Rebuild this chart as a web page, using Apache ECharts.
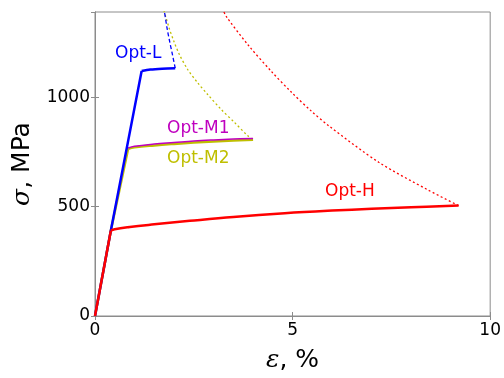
<!DOCTYPE html>
<html><head><meta charset="utf-8">
<script src="https://cdn.jsdelivr.net/npm/echarts@6/dist/echarts.min.js"></script>
<style>html,body{margin:0;padding:0;background:#fff}#c{width:504px;height:378px}</style>
</head><body><div id="c"></div>
<script>
var xTicks = [0, 5, 10];
var yTicks = [0, 500, 1000];
var optLElastic = [[0,0],[0.40,390],[1.18,1120]];
var optL = [[1.18,1120],[1.4,1127],[1.7,1131],[2.03,1133]];
var optLDash = [[2.03,1133],[1.96,1195],[1.89,1254],[1.82,1320],[1.75,1400]];
var optMElastic = [[0,0],[0.40,390],[0.84,766]];
var optM1 = [[0.84,768],[1.0,776],[1.5,786],[2.0,793],[2.5,800],[3.0,805],[3.5,809],[4.0,812]];
var optM2 = [[0.84,764],[1.0,771],[1.5,780],[2.0,787],[2.5,793],[3.0,798],[3.5,802],[4.0,806]];
var optMDash = [[3.99,808],[3.86,825],[3.53,885],[3.19,945],[2.85,1013],[2.60,1066],[2.35,1126],[2.14,1194],[2.00,1254],[1.87,1320],[1.74,1400]];
var optHElastic = [[0,0],[0.40,390]];
var optH = [[0.40,390],[0.5,397],[0.88,407],[1.5,419],[2.4,435],[3.5,453],[4.8,470],[6.0,482],[7.0,490],[8.0,497],[9.2,505]];
var optHDash = [[9.2,505],[8.44,575],[7.18,703],[5.92,869],[5.48,936],[4.96,1025],[4.46,1119],[3.88,1238],[3.32,1370],[3.24,1400]];

var chart = echarts.init(document.getElementById('c'));
var frame = '#8c8c8c';
function ln(data, color, w, type, z, smooth){
  return {type:'line', data:data, showSymbol:false, symbol:'none', smooth:smooth||false, z:z||2,
    lineStyle:{color:color, width:w, type:type||'solid'}, animation:false};
}
chart.setOption({
  animation:false,
  grid:{left:95, right:12, top:12, bottom:59, show:true, borderColor:frame, borderWidth:1},
  xAxis:[{type:'value', min:0, max:10, interval:5,
    axisLine:{show:true, lineStyle:{color:frame}},
    axisTick:{show:true, inside:true, length:4, lineStyle:{color:frame}},
    splitLine:{show:false},
    axisLabel:{color:'#000', fontSize:17, fontFamily:'DejaVu Sans', margin:6,
      formatter:function(v){return xTicks.indexOf(v)>=0? String(v):'';}},
    name:'{i|ε}, %', nameLocation:'middle', nameGap:32,
    nameTextStyle:{fontSize:25, fontFamily:'DejaVu Sans', color:'#000',
      rich:{i:{fontSize:25, fontFamily:'DejaVu Serif', fontStyle:'italic', color:'#000'}}}},
   {type:'value', position:'top', min:0, max:10, interval:5,
    axisLine:{show:true, lineStyle:{color:frame}},
    axisTick:{show:true, inside:true, length:4, lineStyle:{color:frame}},
    axisLabel:{show:false}, splitLine:{show:false}}],
  yAxis:[{type:'value', min:0, max:1390, interval:500,
    axisLine:{show:true, lineStyle:{color:frame}},
    axisTick:{show:true, inside:true, length:4, lineStyle:{color:frame}},
    splitLine:{show:false},
    axisLabel:{color:'#000', fontSize:17, fontFamily:'DejaVu Sans', margin:5, showMaxLabel:false,
      formatter:function(v){return yTicks.indexOf(v)>=0? String(v):'';}},
    name:'{i|σ}, MPa', nameLocation:'middle', nameGap:60, nameRotate:90,
    nameTextStyle:{fontSize:25, fontFamily:'DejaVu Sans', color:'#000',
      rich:{i:{fontSize:25, fontFamily:'DejaVu Serif', fontStyle:'italic', color:'#000'}}}},
   {type:'value', position:'right', min:0, max:1390, interval:500,
    axisLine:{show:true, lineStyle:{color:frame}},
    axisTick:{show:true, inside:true, length:4, lineStyle:{color:frame}},
    axisLabel:{show:false}, splitLine:{show:false}}],
  series:[
    ln(optHDash, '#ff0000', 1.3, [2,2.5], 1, 0.3),
    ln(optMDash, '#bfbf00', 1.3, [2,2.5], 1, 0.3),
    ln(optLDash, '#0000ff', 1.3, [4,2.5], 1, 0.3),
    ln(optMElastic, '#bfbf00', 2.5, 'solid', 2),
    ln(optM2, '#bfbf00', 2.5, 'solid', 2, 0.4),
    ln(optM1, '#bf00bf', 1.5, 'solid', 3, 0.4),
    ln(optLElastic, '#0000ff', 2.5, 'solid', 3),
    ln(optL, '#0000ff', 2.5, 'solid', 3, 0.3),
    ln(optHElastic, '#ff0000', 2.5, 'solid', 4),
    ln(optH, '#ff0000', 2.5, 'solid', 4, 0.4)
  ],
  graphic:[
    {type:'text', left:115, top:45, style:{text:'Opt-L', fill:'#0000ff', fontSize:17, fontFamily:'DejaVu Sans'}},
    {type:'text', left:167, top:120, style:{text:'Opt-M1', fill:'#bf00bf', fontSize:17, fontFamily:'DejaVu Sans'}},
    {type:'text', left:167, top:150, style:{text:'Opt-M2', fill:'#bfbf00', fontSize:17, fontFamily:'DejaVu Sans'}},
    {type:'text', left:325, top:183, style:{text:'Opt-H', fill:'#ff0000', fontSize:17, fontFamily:'DejaVu Sans'}}
  ]
});
</script></body></html>
